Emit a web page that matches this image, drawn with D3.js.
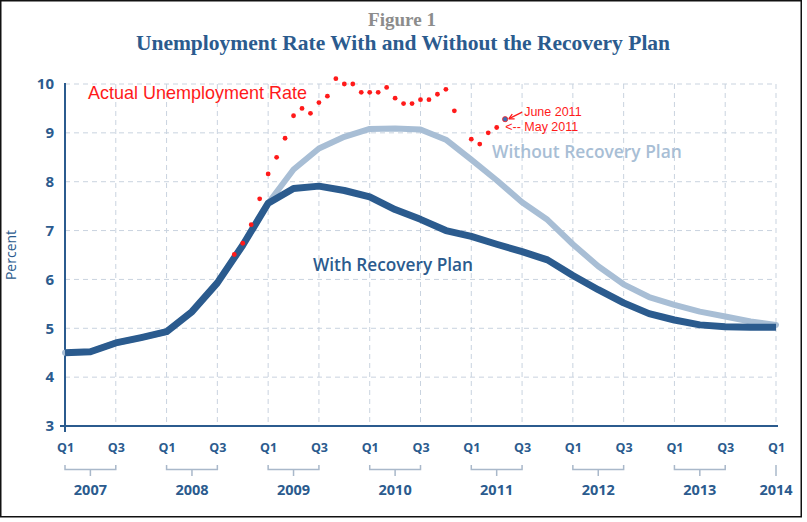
<!DOCTYPE html>
<html>
<head>
<meta charset="utf-8">
<script src="https://cdn.jsdelivr.net/npm/d3@7/dist/d3.min.js"></script>
<style>
  html, body { margin: 0; padding: 0; background: #ffffff; }
  svg { display: block; }
</style>
</head>
<body>
<svg id="chart" width="807" height="522"></svg>
<script>
// ---------------- DATA ----------------
const quarters = ["2007Q1","2007Q2","2007Q3","2007Q4","2008Q1","2008Q2","2008Q3","2008Q4",
  "2009Q1","2009Q2","2009Q3","2009Q4","2010Q1","2010Q2","2010Q3","2010Q4",
  "2011Q1","2011Q2","2011Q3","2011Q4","2012Q1","2012Q2","2012Q3","2012Q4",
  "2013Q1","2013Q2","2013Q3","2013Q4","2014Q1"];
const withPlan = [4.50,4.52,4.70,4.81,4.93,5.34,5.93,6.70,
  7.56,7.86,7.91,7.82,7.69,7.43,7.23,7.00,
  6.88,6.72,6.57,6.40,6.08,5.79,5.52,5.30,
  5.17,5.07,5.03,5.02,5.02];
const withoutPlan = [4.50,4.52,4.70,4.81,4.93,5.34,5.93,6.70,
  7.56,8.25,8.68,8.92,9.08,9.09,9.07,8.86,
  8.45,8.03,7.58,7.22,6.72,6.27,5.90,5.64,
  5.48,5.34,5.24,5.14,5.07];
const months = ["2008-10","2008-11","2008-12",
  "2009-01","2009-02","2009-03","2009-04","2009-05","2009-06","2009-07","2009-08","2009-09","2009-10","2009-11","2009-12",
  "2010-01","2010-02","2010-03","2010-04","2010-05","2010-06","2010-07","2010-08","2010-09","2010-10","2010-11","2010-12",
  "2011-01","2011-02","2011-03","2011-04","2011-05","2011-06"];
const actual = [6.51,6.74,7.12,
  7.65,8.16,8.50,8.89,9.35,9.50,9.40,9.62,9.75,10.11,10.00,10.00,
  9.83,9.83,9.83,9.93,9.71,9.60,9.60,9.68,9.68,9.79,9.89,9.45,
  null,8.87,8.77,9.00,9.11,9.28];
const yTicks = [3,4,5,6,7,8,9,10];
const quarterTickLabels = ["Q1","Q3","Q1","Q3","Q1","Q3","Q1","Q3","Q1","Q3","Q1","Q3","Q1","Q3","Q1"];
const yearLabels = ["2007","2008","2009","2010","2011","2012","2013","2014"];

// ---------------- STYLE ----------------
const DARK = "#2b5b8e";
const LIGHT = "#a8bed5";
const GRID = "#c9d3df";
const BRACKET = "#a9b8ca";
const RED = "#ff1a1a";

const svg = d3.select("#chart");

// frame
svg.append("rect").attr("x", 0.75).attr("y", 0.75).attr("width", 800.5).attr("height", 516)
  .attr("fill", "#ffffff").attr("stroke", "#111").attr("stroke-width", 1.5);

const x = d3.scaleLinear().domain([0, 28]).range([65, 776]);
const y = d3.scaleLinear().domain([3, 10]).range([426, 84]);

function monthPos(label) {
  const [yy, mm] = label.split("-").map(Number);
  const idx = (yy - 2007) * 12 + (mm - 1);
  return (idx - 1) / 3;
}
function quarterPos(label) {
  const yy = +label.slice(0, 4), q = +label.slice(5);
  return (yy - 2007) * 4 + (q - 1);
}

function fitText(sel, target) {
  const w = sel.node().getComputedTextLength();
  const fs = parseFloat(sel.attr("font-size"));
  if (w > 0) sel.attr("font-size", (fs * target / w).toFixed(2));
  return sel;
}

// ---------------- TITLES ----------------
fitText(svg.append("text").attr("x", 402).attr("y", 26).attr("text-anchor", "middle")
  .attr("font-family", "'Liberation Serif', 'DejaVu Serif', serif").attr("font-weight", "bold")
  .attr("font-size", 16).attr("fill", "#8c8c8c").text("Figure 1"), 68);
fitText(svg.append("text").attr("x", 403).attr("y", 50).attr("text-anchor", "middle")
  .attr("font-family", "'Liberation Serif', 'DejaVu Serif', serif").attr("font-weight", "bold")
  .attr("font-size", 18).attr("fill", DARK).text("Unemployment Rate With and Without the Recovery Plan"), 534);

// ---------------- GRID ----------------
const grid = svg.append("g").attr("stroke", GRID).attr("stroke-width", 1).attr("stroke-dasharray", "5,4");
grid.selectAll("line.h").data(yTicks.filter(d => d > 3)).join("line")
  .attr("x1", x(0)).attr("x2", x(28)).attr("y1", d => y(d)).attr("y2", d => y(d));
grid.selectAll("line.v").data(d3.range(2, 29, 2)).join("line")
  .attr("x1", d => x(d)).attr("x2", d => x(d)).attr("y1", y(10)).attr("y2", y(3));

// ---------------- AXES ----------------
const yAxis = d3.axisLeft(y).tickValues(yTicks).tickSize(0).tickPadding(11).tickFormat(d3.format("d"));
const gy = svg.append("g").attr("transform", `translate(${x(0)},0)`).call(yAxis);
gy.select(".domain").remove();
gy.selectAll("text").attr("font-family", "'Open Sans', sans-serif").attr("font-weight", "bold")
  .attr("font-size", 15).attr("fill", DARK);

svg.append("line").attr("x1", x(0)).attr("x2", x(0)).attr("y1", y(10) - 1).attr("y2", y(3) + 6)
  .attr("stroke", DARK).attr("stroke-width", 2);
svg.append("line").attr("x1", x(0) - 5).attr("x2", x(28) + 2).attr("y1", y(3)).attr("y2", y(3))
  .attr("stroke", DARK).attr("stroke-width", 2);

svg.append("text").attr("transform", `translate(16,${255}) rotate(-90)`).attr("text-anchor", "middle")
  .attr("font-family", "'Open Sans', sans-serif").attr("font-size", 14).attr("fill", DARK).text("Percent");

// x quarter labels
const xAxis = d3.axisBottom(x).tickValues(d3.range(0, 29, 2)).tickSize(0).tickPadding(17)
  .tickFormat((d, i) => quarterTickLabels[i]);
const gx = svg.append("g").attr("transform", `translate(0,${y(3)})`).call(xAxis);
gx.select(".domain").remove();
gx.selectAll("text").attr("font-family", "'Open Sans', sans-serif").attr("font-weight", "bold")
  .attr("font-size", 12.5).attr("fill", DARK);

// year brackets
const br = svg.append("g").attr("stroke", BRACKET).attr("stroke-width", 1.5).attr("fill", "none");
yearLabels.forEach((yr, i) => {
  const q0 = i * 4;
  const cx = q0 < 28 ? x(q0 + 1) : x(q0);
  if (q0 < 28) {
    br.append("path").attr("d", `M${x(q0)},465 V469.5 H${x(q0 + 2)} V465 M${x(q0 + 1)},469.5 V476`);
  } else {
    br.append("path").attr("d", `M${x(q0)},465 V476`);
  }
  svg.append("text").attr("x", cx).attr("y", 495).attr("text-anchor", "middle")
    .attr("font-family", "'Open Sans', sans-serif").attr("font-weight", "bold")
    .attr("font-size", 14.5).attr("fill", DARK).text(yr);
});

// ---------------- LINES ----------------
const line = d3.line().x(d => x(quarterPos(d.q))).y(d => y(d.v)).curve(d3.curveLinear);
svg.append("path").datum(quarters.map((q, i) => ({ q, v: withoutPlan[i] })))
  .attr("d", line).attr("fill", "none").attr("stroke", LIGHT).attr("stroke-width", 6)
  .attr("stroke-linejoin", "round").attr("stroke-linecap", "round");
svg.append("path").datum(quarters.map((q, i) => ({ q, v: withPlan[i] })))
  .attr("d", line).attr("fill", "none").attr("stroke", DARK).attr("stroke-width", 7)
  .attr("stroke-linejoin", "round").attr("stroke-linecap", "butt");

// ---------------- ACTUAL DOTS ----------------
const pts = months.map((m, i) => ({ m, v: actual[i] })).filter(d => d.v != null);
svg.append("g").selectAll("circle").data(pts).join("circle")
  .attr("cx", d => x(monthPos(d.m))).attr("cy", d => y(d.v))
  .attr("r", d => d.m === "2011-06" ? 2.6 : 2.4)
  .attr("fill", d => d.m === "2011-06" ? "#3d6fb5" : RED)
  .attr("stroke", d => d.m === "2011-06" ? RED : "none")
  .attr("stroke-width", 0.8);

// ---------------- LABELS ----------------
fitText(svg.append("text").attr("x", 88).attr("y", 99)
  .attr("font-family", "'Liberation Sans', Arial, sans-serif").attr("font-size", 16)
  .attr("fill", RED).text("Actual Unemployment Rate"), 219);
fitText(svg.append("text").attr("x", 313).attr("y", 271)
  .attr("font-family", "'Open Sans', sans-serif").attr("font-size", 17).attr("font-weight", 600)
  .attr("fill", DARK).text("With Recovery Plan"), 160);
fitText(svg.append("text").attr("x", 492).attr("y", 158)
  .attr("font-family", "'Open Sans', sans-serif").attr("font-size", 17).attr("font-weight", 600)
  .attr("fill", LIGHT).text("Without Recovery Plan"), 190);

// annotations
const june = pts.find(d => d.m === "2011-06");
const may = pts.find(d => d.m === "2011-05");
const jx = x(monthPos(june.m)), jy = y(june.v);
const mx = x(monthPos(may.m)), my = y(may.v);
svg.append("text").attr("x", jx + 19).attr("y", jy - 3.5)
  .attr("font-family", "'Liberation Sans', Arial, sans-serif").attr("font-size", 12.5)
  .attr("fill", RED).text("June 2011");
svg.append("text").attr("x", mx + 8.5).attr("y", my + 3.5)
  .attr("font-family", "'Liberation Sans', Arial, sans-serif").attr("font-size", 12.5)
  .attr("fill", RED).text("<-- May 2011");
// June arrow
const ax0 = jx + 17, ay0 = jy - 7, ax1 = jx + 4, ay1 = jy - 0.5;
svg.append("line").attr("x1", ax0).attr("y1", ay0).attr("x2", ax1).attr("y2", ay1)
  .attr("stroke", RED).attr("stroke-width", 1.3);
const ang = Math.atan2(ay1 - ay0, ax1 - ax0);
const hl = 5.5;
svg.append("path").attr("d",
  `M${ax1 + 0.5 * Math.cos(ang)},${ay1 + 0.5 * Math.sin(ang)}` +
  `L${ax1 - hl * Math.cos(ang - 0.5)},${ay1 - hl * Math.sin(ang - 0.5)}` +
  `M${ax1 + 0.5 * Math.cos(ang)},${ay1 + 0.5 * Math.sin(ang)}` +
  `L${ax1 - hl * Math.cos(ang + 0.5)},${ay1 - hl * Math.sin(ang + 0.5)}`)
  .attr("stroke", RED).attr("stroke-width", 1.3).attr("fill", "none");
</script>
</body>
</html>
